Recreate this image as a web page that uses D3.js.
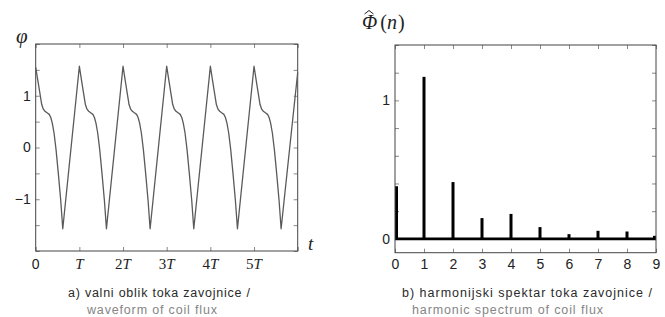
<!DOCTYPE html>
<html>
<head>
<meta charset="utf-8">
<script src="https://cdn.jsdelivr.net/npm/d3@7"></script>
<style>
  body { margin: 0; background: #fff; }
  svg { display: block; }
</style>
</head>
<body>
<div id="chart"></div>
<script>
// waveform of coil flux, t in units of T
const waveT = [
  0, 0.04, 0.083, 0.138, 0.175, 0.213, 0.26, 0.31, 0.345, 0.38, 0.42, 0.466, 0.518, 0.573, 0.62,
  1, 1.04, 1.083, 1.138, 1.175, 1.213, 1.26, 1.31, 1.345, 1.38, 1.42, 1.466, 1.518, 1.573, 1.62,
  2, 2.04, 2.083, 2.138, 2.175, 2.213, 2.26, 2.31, 2.345, 2.38, 2.42, 2.466, 2.518, 2.573, 2.62,
  3, 3.04, 3.083, 3.138, 3.175, 3.213, 3.26, 3.31, 3.345, 3.38, 3.42, 3.466, 3.518, 3.573, 3.62,
  4, 4.04, 4.083, 4.138, 4.175, 4.213, 4.26, 4.31, 4.345, 4.38, 4.42, 4.466, 4.518, 4.573, 4.62,
  5, 5.04, 5.083, 5.138, 5.175, 5.213, 5.26, 5.31, 5.345, 5.38, 5.42, 5.466, 5.518, 5.573, 5.62,
  6
];
const wavePhi = [
  1.55, 1.34, 1.12, 0.83, 0.74, 0.70, 0.67, 0.64, 0.58, 0.47, 0.28, -0.04, -0.50, -1.02, -1.57,
  1.57, 1.35, 1.12, 0.83, 0.74, 0.70, 0.67, 0.64, 0.58, 0.47, 0.28, -0.04, -0.50, -1.02, -1.57,
  1.57, 1.35, 1.12, 0.83, 0.74, 0.70, 0.67, 0.64, 0.58, 0.47, 0.28, -0.04, -0.50, -1.02, -1.57,
  1.57, 1.35, 1.12, 0.83, 0.74, 0.70, 0.67, 0.64, 0.58, 0.47, 0.28, -0.04, -0.50, -1.02, -1.57,
  1.57, 1.35, 1.12, 0.83, 0.74, 0.70, 0.67, 0.64, 0.58, 0.47, 0.28, -0.04, -0.50, -1.02, -1.57,
  1.57, 1.35, 1.12, 0.83, 0.74, 0.70, 0.67, 0.64, 0.58, 0.47, 0.28, -0.04, -0.50, -1.02, -1.57,
  1.45
];
const waveTickLabels = ["0", "T", "2T", "3T", "4T", "5T"];

// harmonic spectrum
const harmonics = [0, 1, 2, 3, 4, 5, 6, 7, 8, 9];
const amplitudes = [0.38, 1.17, 0.41, 0.15, 0.18, 0.085, 0.034, 0.058, 0.053, 0.022];

const W = 665, H = 317;
const svg = d3.select("#chart").append("svg")
    .attr("width", W)
    .attr("height", H);

const sans = "'Liberation Sans', Arial, sans-serif";
const serif = "'Liberation Serif', 'Times New Roman', serif";
const boxColor = "#444";

// ---------- a) waveform ----------
const xA = d3.scaleLinear().domain([0, 6]).range([35.7, 297.7]);
const yA = d3.scaleLinear().domain([-2, 2]).range([251, 44]);

const gA = svg.append("g");

// ticks (inward, all four sides)
const yTicksA = d3.range(-2, 2.01, 0.5);
gA.append("g")
    .attr("transform", `translate(${xA.range()[0]},0)`)
    .call(d3.axisLeft(yA).tickValues(yTicksA).tickSize(-4).tickPadding(5)
        .tickFormat(d => d === -1 ? "\u22121" : (d === 0 || d === 1) ? d : ""))
    .call(g => g.select(".domain").remove())
    .call(g => g.selectAll("text").attr("font-family", sans).attr("font-size", 14).attr("fill", "#222"));
gA.append("g")
    .attr("transform", `translate(${xA.range()[1]},0)`)
    .call(d3.axisRight(yA).tickValues(yTicksA).tickSize(-4).tickFormat(""))
    .call(g => g.select(".domain").remove());
gA.append("g")
    .attr("transform", `translate(0,${yA.range()[0]})`)
    .call(d3.axisBottom(xA).tickValues(d3.range(0, 7)).tickSize(-4).tickFormat(""))
    .call(g => g.select(".domain").remove());
gA.append("g")
    .attr("transform", `translate(0,${yA.range()[1]})`)
    .call(d3.axisTop(xA).tickValues(d3.range(0, 7)).tickSize(-4).tickFormat(""))
    .call(g => g.select(".domain").remove());
gA.selectAll(".tick line").attr("stroke", "#888");

gA.append("rect")
    .attr("x", xA.range()[0]).attr("y", yA.range()[1])
    .attr("width", xA.range()[1] - xA.range()[0])
    .attr("height", yA.range()[0] - yA.range()[1])
    .attr("fill", "none").attr("stroke", boxColor).attr("stroke-width", 1);

// x labels: 0 in sans, nT in serif with italic T
const xLab = gA.selectAll(".xlab")
    .data(waveTickLabels)
    .enter().append("text")
    .attr("class", "xlab")
    .attr("x", (d, i) => xA(i))
    .attr("y", 269)
    .attr("text-anchor", "middle")
    .attr("font-size", 15)
    .attr("fill", "#222");
xLab.each(function (d, i) {
    const t = d3.select(this);
    if (i === 0) {
        t.attr("font-family", sans).attr("font-size", 14).text(d);
    } else {
        t.attr("font-family", serif);
        if (d.length > 1) t.append("tspan").text(d.slice(0, -1));
        t.append("tspan").attr("font-style", "italic").text("T");
    }
});

const lineA = d3.line()
    .x((d, i) => xA(waveT[i]))
    .y(d => yA(d));
gA.append("path")
    .datum(wavePhi)
    .attr("d", lineA)
    .attr("fill", "none")
    .attr("stroke", "#5a5a5a")
    .attr("stroke-width", 1.3)
    .attr("stroke-linejoin", "round");

gA.append("text")
    .attr("x", 16).attr("y", 43)
    .attr("font-family", serif).attr("font-style", "italic")
    .attr("font-size", 21).attr("fill", "#222")
    .text("\u03C6");
gA.append("text")
    .attr("x", 308).attr("y", 250)
    .attr("font-family", serif).attr("font-style", "italic")
    .attr("font-size", 19).attr("fill", "#222")
    .text("t");

// captions
gA.append("text")
    .attr("x", 68).attr("y", 297)
    .attr("font-family", sans).attr("font-size", 12.5).attr("fill", "#2a2a2a")
    .attr("textLength", 182).attr("lengthAdjust", "spacing")
    .text("a) valni oblik toka zavojnice /");
gA.append("text")
    .attr("x", 87).attr("y", 314)
    .attr("font-family", sans).attr("font-size", 12.5).attr("fill", "#858585")
    .attr("textLength", 130).attr("lengthAdjust", "spacing")
    .text("waveform of coil flux");

// ---------- b) harmonic spectrum ----------
const xB = d3.scaleLinear().domain([0, 9]).range([395, 656]);
const yB = d3.scaleLinear().domain([-0.1, 1.4]).range([252.7, 45]);

const gB = svg.append("g");

const yTicksB = d3.range(0, 1.41, 0.2);
gB.append("g")
    .attr("transform", `translate(${xB.range()[0]},0)`)
    .call(d3.axisLeft(yB).tickValues(yTicksB).tickSize(-4).tickPadding(5)
        .tickFormat(d => Math.abs(d) < 1e-9 ? "0" : Math.abs(d - 1) < 1e-9 ? "1" : ""))
    .call(g => g.select(".domain").remove())
    .call(g => g.selectAll("text").attr("font-family", sans).attr("font-size", 14).attr("fill", "#222"));
gB.append("g")
    .attr("transform", `translate(${xB.range()[1]},0)`)
    .call(d3.axisRight(yB).tickValues(yTicksB).tickSize(-4).tickFormat(""))
    .call(g => g.select(".domain").remove());
gB.append("g")
    .attr("transform", `translate(0,${yB.range()[0]})`)
    .call(d3.axisBottom(xB).tickValues(harmonics).tickSize(-4).tickPadding(4))
    .call(g => g.select(".domain").remove())
    .call(g => g.selectAll("text").attr("font-family", sans).attr("font-size", 14)
        .attr("fill", "#222").attr("y", 16).attr("dy", 0));
gB.append("g")
    .attr("transform", `translate(0,${yB.range()[1]})`)
    .call(d3.axisTop(xB).tickValues(harmonics).tickSize(-4).tickFormat(""))
    .call(g => g.select(".domain").remove());
gB.selectAll(".tick line").attr("stroke", "#888");

gB.append("clipPath").attr("id", "clipB")
    .append("rect")
    .attr("x", xB.range()[0]).attr("y", yB.range()[1])
    .attr("width", xB.range()[1] - xB.range()[0])
    .attr("height", yB.range()[0] - yB.range()[1]);

const plotB = gB.append("g").attr("clip-path", "url(#clipB)");

// baseline of the stems
plotB.append("line")
    .attr("x1", xB(0)).attr("x2", xB(9))
    .attr("y1", yB(0)).attr("y2", yB(0))
    .attr("stroke", "#000").attr("stroke-width", 2.6);

plotB.selectAll(".bar")
    .data(harmonics)
    .enter().append("rect")
    .attr("class", "bar")
    .attr("x", d => d === 0 ? xB(d) : d === 9 ? xB(d) - 3 : xB(d) - 1.5)
    .attr("width", 3)
    .attr("y", (d, i) => yB(amplitudes[i]))
    .attr("height", (d, i) => yB(0) - yB(amplitudes[i]))
    .attr("fill", "#000");

gB.append("rect")
    .attr("x", xB.range()[0]).attr("y", yB.range()[1])
    .attr("width", xB.range()[1] - xB.range()[0])
    .attr("height", yB.range()[0] - yB.range()[1])
    .attr("fill", "none").attr("stroke", boxColor).attr("stroke-width", 1);

// title: Phi hat (n)
const tB = gB.append("text")
    .attr("x", 362).attr("y", 29)
    .attr("font-family", serif).attr("font-size", 20).attr("fill", "#222");
tB.append("tspan").attr("font-style", "italic").text("\u03A6");
tB.append("tspan").attr("dx", 3).text("(");
tB.append("tspan").attr("font-style", "italic").text("n");
tB.append("tspan").attr("dx", 1).text(")");
// hat drawn over the Phi
gB.append("path")
    .attr("d", "M364.5,14 L369,10.5 L373.5,14")
    .attr("fill", "none").attr("stroke", "#222").attr("stroke-width", 1);

gB.append("text")
    .attr("x", 402).attr("y", 297)
    .attr("font-family", sans).attr("font-size", 12.5).attr("fill", "#2a2a2a")
    .attr("textLength", 250).attr("lengthAdjust", "spacing")
    .text("b) harmonijski spektar toka zavojnice /");
gB.append("text")
    .attr("x", 412).attr("y", 314)
    .attr("font-family", sans).attr("font-size", 12.5).attr("fill", "#858585")
    .attr("textLength", 191).attr("lengthAdjust", "spacing")
    .text("harmonic spectrum of coil flux");
</script>
</body>
</html>
